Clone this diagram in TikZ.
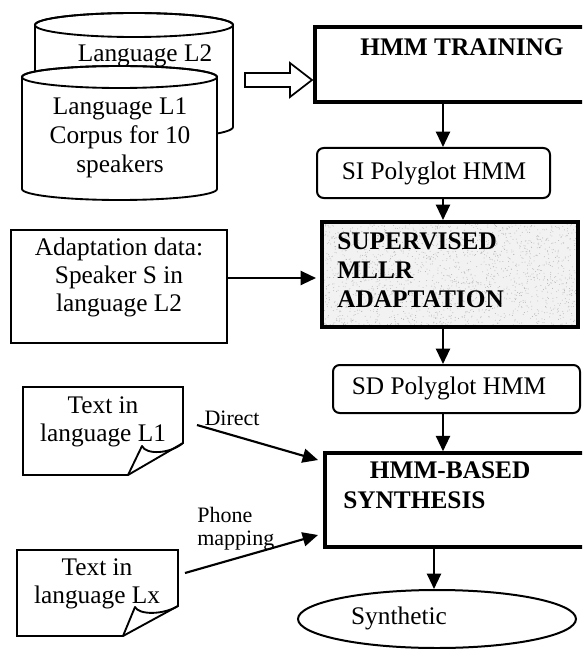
\documentclass[tikz,border=0pt]{standalone}
\usepackage{fontspec}
\setmainfont{Liberation Serif}
\usetikzlibrary{arrows.meta,fit,shapes.geometric}

\begin{document}
\begin{tikzpicture}[x=0.75pt,y=-0.75pt,
  txt/.style={font=\fontsize{19}{21}\selectfont, inner sep=0pt, align=center},
  btxt/.style={font=\fontsize{19}{21.75}\selectfont\bfseries, inner sep=0pt, align=left},
  lbl/.style={font=\fontsize{16.5}{17.5}\selectfont, inner sep=0pt, align=left},
  outline/.style={draw, line width=1.4pt},
  plainbox/.style={draw, line width=1.4pt, inner sep=0pt},
  heavybox/.style={draw, line width=2.6pt, inner sep=0pt},
  roundbox/.style={draw, line width=1.5pt, rounded corners=5pt, inner sep=0pt},
  arr/.style={line width=1.6pt, -{Triangle[length=11.5pt,width=10.5pt]}},
]
\useasboundingbox (0,0) rectangle (582,649);
\clip (0,0) rectangle (582,649);
\fill[white] (0,0) rectangle (582,649);

% ---------- corpus databases (two cylinders) ----------
\filldraw[outline, fill=white]
  (35,25) -- (35,127) arc[start angle=180, end angle=0, x radius=99, y radius=12]
  -- (233,25) arc[start angle=0, end angle=-180, x radius=99, y radius=12] -- cycle;
\draw[outline] (134,25) ellipse[x radius=99, y radius=12];
\node[txt] (corpusB) at (145,56) {Language L2};

\filldraw[outline, fill=white]
  (22,77) -- (22,189) arc[start angle=180, end angle=0, x radius=97.5, y radius=11]
  -- (217,77) arc[start angle=0, end angle=-180, x radius=97.5, y radius=11] -- cycle;
\draw[outline] (119.5,77) ellipse[x radius=97.5, y radius=11];
\node[txt, font=\fontsize{19}{21.75}\selectfont] (corpusA) at (120,138)
  {Language L1\\Corpus for 10\\speakers};

% hollow block arrow into training
\coordinate (feed) at (245,80);
\filldraw[outline, fill=white, line width=1.3pt]
  (feed) ++(0,-7) -- ++(45,0) -- ++(0,-10) -- ++(22,17) -- ++(-22,17)
  -- ++(0,-10) -- ++(-45,0) -- cycle;

% ---------- main chain ----------
\coordinate (col) at (443,0);
\coordinate (col2) at (434,0);

\node[heavybox, fit={(315,27) (620,102)}] (train) {};
\node[btxt] (trainT) at (462,47) {HMM TRAINING};

\node[roundbox, fit={(317,148) (550,198)}] (si) {};
\node[txt] (siT) at (434,173) {SI Polyglot HMM};

% grainy shaded adaptation block
\fill[gray!10] (322,222) rectangle (578,327);
\pgfmathsetseed{17}
\foreach \k in {1,...,1900}{
  \fill[gray!60] ({450+127*rand},{274.5+51.5*rand}) circle[radius=0.45];
}
\node[heavybox, line width=3pt, fit={(322,222) (578,327)}] (sup) {};
\node[btxt, anchor=west] (supT) at (337,270.5) {SUPERVISED\\MLLR\\ADAPTATION};

\node[plainbox, fit={(11,230) (227,343)}] (adapt) {};
\node[txt, font=\fontsize{19}{21}\selectfont] (adaptT) at (119,277)
  {Adaptation data:\\Speaker S in\\language L2};
\coordinate (adrow) at (0,278);

\node[roundbox, fit={(333,365) (580,413)}] (sd) {};
\node[txt] (sdT) at (449,388) {SD Polyglot HMM};

\node[heavybox, fit={(325,453) (620,547)}] (synth) {};
\node[btxt, font=\fontsize{19}{22.5}\selectfont\bfseries, anchor=west] (synthT) at (343,485.5)
  {\hspace*{20pt}HMM-BASED\\SYNTHESIS};

\node[draw, ellipse, line width=1.5pt, inner sep=0pt,
      minimum width=208.5pt, minimum height=43.5pt] (out) at (437,619) {};
\node[txt] (outT) at (399,618) {Synthetic};

% ---------- text documents ----------
\filldraw[outline, fill=white]
  (23,387) -- (183,387) -- (183,443) -- (128,475) -- (23,475) -- cycle;
\draw[outline, line join=round]
  (128,475) -- (142,446) .. controls (146,455) and (170,454) .. (183,443);
\node[txt] (docA) at (103,422) {Text in\\language L1};

\filldraw[outline, fill=white]
  (17,550) -- (178,550) -- (178,606) -- (123,636) -- (17,636) -- cycle;
\draw[outline, line join=round]
  (123,636) -- (135,607) .. controls (139,615) and (163,615) .. (178,606);
\node[txt] (docB) at (97,584) {Text in\\language Lx};

% ---------- connectors ----------
\draw[arr] (train.south -| col) -- (si.north -| col);
\draw[arr] (si.south -| col) -- (sup.north -| col);
\draw[arr, shorten >=3pt] (adapt.east |- adrow) -- (sup.west |- adrow);
\draw[arr] (sup.south -| col) -- (sd.north -| col);
\draw[arr] (sd.south -| col) -- (synth.north -| col);
\draw[arr] (synth.south -| col2) -- (out.north -| col2);

\coordinate (dA) at (197,425);
\coordinate (dAt) at (318,460);
\draw[arr] (dA) -- (dAt);
\node[lbl] (direct) at (232,418.5) {Direct};

\coordinate (dB) at (185,573);
\coordinate (dBt) at (318,535);
\draw[arr] (dB) -- (dBt);
\node[lbl, anchor=west] (phone) at (197,529) {Phone\\mapping};
\end{tikzpicture}
\end{document}
